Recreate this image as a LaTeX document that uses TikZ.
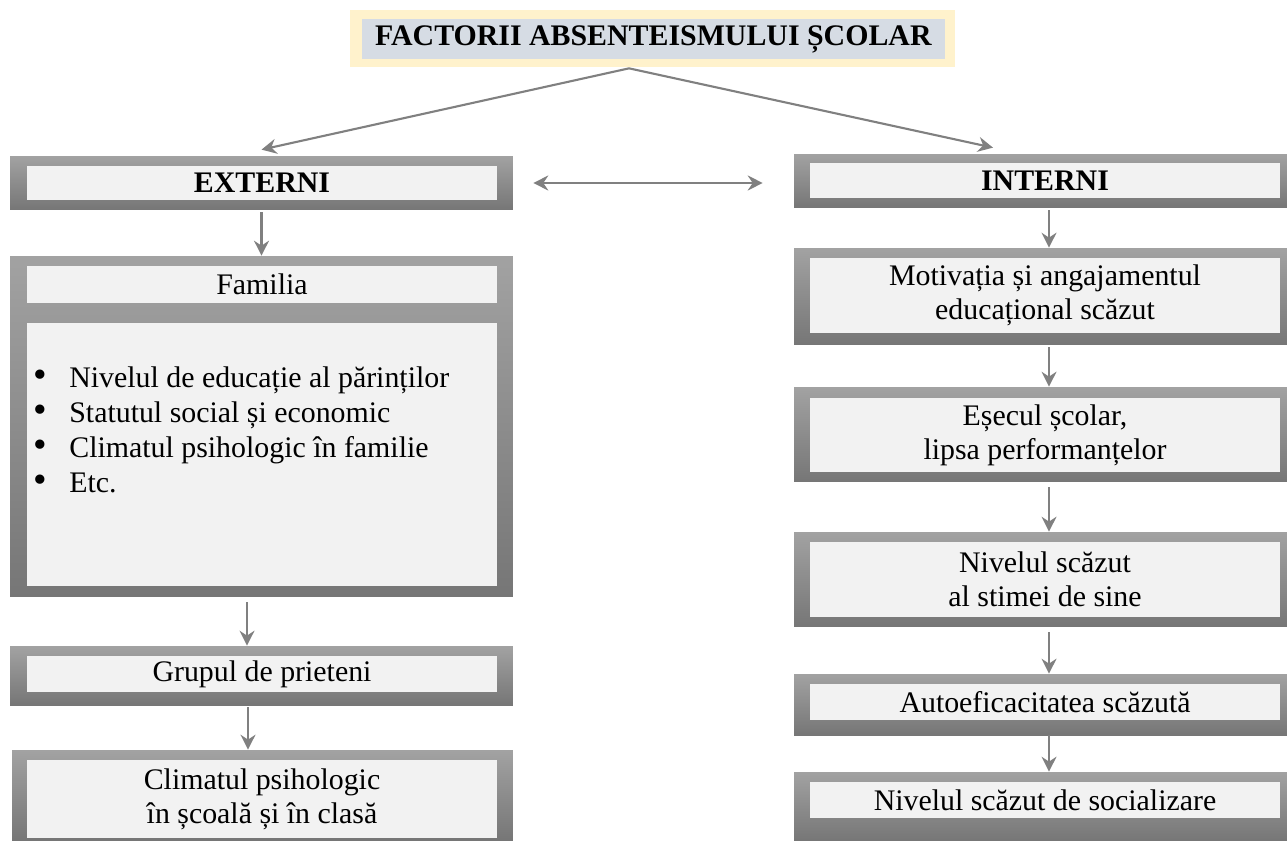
\documentclass[tikz,border=0pt]{standalone}
\usepackage{fontspec}
\setmainfont{Liberation Serif}
\usetikzlibrary{arrows.meta, positioning}
\definecolor{framelight}{RGB}{162,162,162}
\definecolor{framedark}{RGB}{118,118,118}
\definecolor{panelgray}{RGB}{242,242,242}
\definecolor{titleyellow}{RGB}{255,242,204}
\definecolor{titleblue}{RGB}{214,220,228}
\definecolor{arrowgray}{RGB}{128,128,128}
\tikzstyle{frame} = [rectangle, inner sep=0pt, top color=framelight, bottom color=framedark, minimum width=10.06cm]
\tikzstyle{panel} = [rectangle, inner sep=0pt, fill=panelgray, text centered, align=center, minimum width=9.4cm]
\tikzstyle{listitem} = [anchor=base west, inner sep=0pt]
\tikzstyle{arrow} = [line width=1.2pt, draw=arrowgray, -{Stealth[length=3mm, width=3mm, inset=1mm]}]
\tikzset{
  font={\fontsize{17pt}{19.5pt}\selectfont}}
\newcommand{\itembullet}{\makebox[0.72cm][l]{\scalebox{1.3}{\textbullet}}}

\begin{document}
\begin{tikzpicture}[x=0.02cm, y=-0.02cm]
    \useasboundingbox (0,0) rectangle (1287,841);

    % title
    \node (title) [rectangle, fill=titleyellow, minimum width=12.1cm, minimum height=1.14cm] at (652.5,38.5) {};
    \node (titletext) [rectangle, fill=titleblue, minimum width=11.66cm, minimum height=0.72cm] at (653.5,39) {\textbf{FACTORII ABSENTEISMULUI ȘCOLAR}};

    % left column
    \node (ext) [frame, minimum height=1.08cm] at (261.5,183) {};
    \node (exttext) [panel, minimum height=0.68cm] at (262,183) {\textbf{EXTERNI}};
    \node (fam) [frame, minimum height=6.82cm] at (261.5,426.5) {};
    \node (famtitle) [panel, minimum height=0.74cm] at (262,284.5) {Familia};
    \node (famlist) [panel, minimum height=5.26cm] at (262,454.5) {};
    \foreach \txt [count=\i] in {Nivelul de educație al părinților, Statutul social și economic, Climatul psihologic în familie, Etc.}
        \node (item\i) [listitem] at (33, 387+35.3*\i-35.3) {\itembullet\txt};
    \node (grp) [frame, minimum height=1.18cm] at (261.5,675.5) {};
    \node (grptext) [panel, minimum height=0.72cm] at (262,674) {Grupul de prieteni};
    \node (clm) [frame, minimum width=10.02cm, minimum height=1.82cm] at (262.5,795.5) {};
    \node (clmtext) [panel, minimum height=1.56cm] at (262,799) {Climatul psihologic\\în școală și în clasă};

    % right column
    \node (int) [frame, minimum width=9.86cm, minimum height=1.08cm] at (1040.5,181) {};
    \node (inttext) [panel, minimum height=0.7cm] at (1045,180.5) {\textbf{INTERNI}};
    \node (mot) [frame, minimum width=9.86cm, minimum height=1.94cm] at (1040.5,296.5) {};
    \node (mottext) [panel, minimum height=1.5cm] at (1045,295.5) {Motivația și angajamentul\\educațional scăzut};
    \node (esc) [frame, minimum width=9.86cm, minimum height=1.9cm] at (1040.5,434.5) {};
    \node (esctext) [panel, minimum height=1.48cm] at (1045,435) {Eșecul școlar,\\lipsa performanțelor};
    \node (stm) [frame, minimum width=9.86cm, minimum height=1.9cm] at (1040.5,579.5) {};
    \node (stmtext) [panel, minimum height=1.5cm] at (1045,579.5) {Nivelul scăzut\\al stimei de sine};
    \node (aut) [frame, minimum width=9.86cm, minimum height=1.22cm] at (1040.5,704.5) {};
    \node (auttext) [panel, minimum height=0.72cm] at (1045,702) {Autoeficacitatea scăzută};
    \node (soc) [frame, minimum width=9.86cm, minimum height=1.38cm] at (1040.5,806.5) {};
    \node (soctext) [panel, minimum height=0.72cm] at (1045,800) {Nivelul scăzut de socializare};

    \coordinate (split) at ([xshift=-0.47cm, yshift=-0.02cm]title.south);

    \draw [arrow] (split) -- ([yshift=0.12cm]ext.north);
    \draw [arrow] (split) -- ([xshift=-0.95cm, yshift=0.12cm]int.north);
    \draw [arrow, {Stealth[length=3mm, width=3mm, inset=1mm]}-{Stealth[length=3mm, width=3mm, inset=1mm]}] ([xshift=0.4cm]ext.east) -- ([xshift=-0.62cm]ext.east -| int.west);

    \draw [arrow] ([yshift=-0.04cm]ext.south) -- (fam.north);
    \draw [arrow] ([xshift=-0.29cm, yshift=-0.1cm]fam.south) -- ([xshift=-0.29cm]grp.north);
    \draw [arrow] ([xshift=-0.27cm, yshift=-0.04cm]grp.south) -- ([xshift=-0.27cm]grp.south |- clm.north);

    \draw [arrow] ([xshift=0.17cm, yshift=-0.04cm]int.south) -- ([xshift=0.17cm]mot.north);
    \draw [arrow] ([xshift=0.17cm, yshift=-0.04cm]mot.south) -- ([xshift=0.17cm]esc.north);
    \draw [arrow] ([xshift=0.17cm, yshift=-0.1cm]esc.south) -- ([xshift=0.17cm]stm.north);
    \draw [arrow] ([xshift=0.17cm, yshift=-0.1cm]stm.south) -- ([xshift=0.17cm]aut.north);
    \draw [arrow] ([xshift=0.17cm]aut.south) -- ([xshift=0.17cm]soc.north);
\end{tikzpicture}
\end{document}
